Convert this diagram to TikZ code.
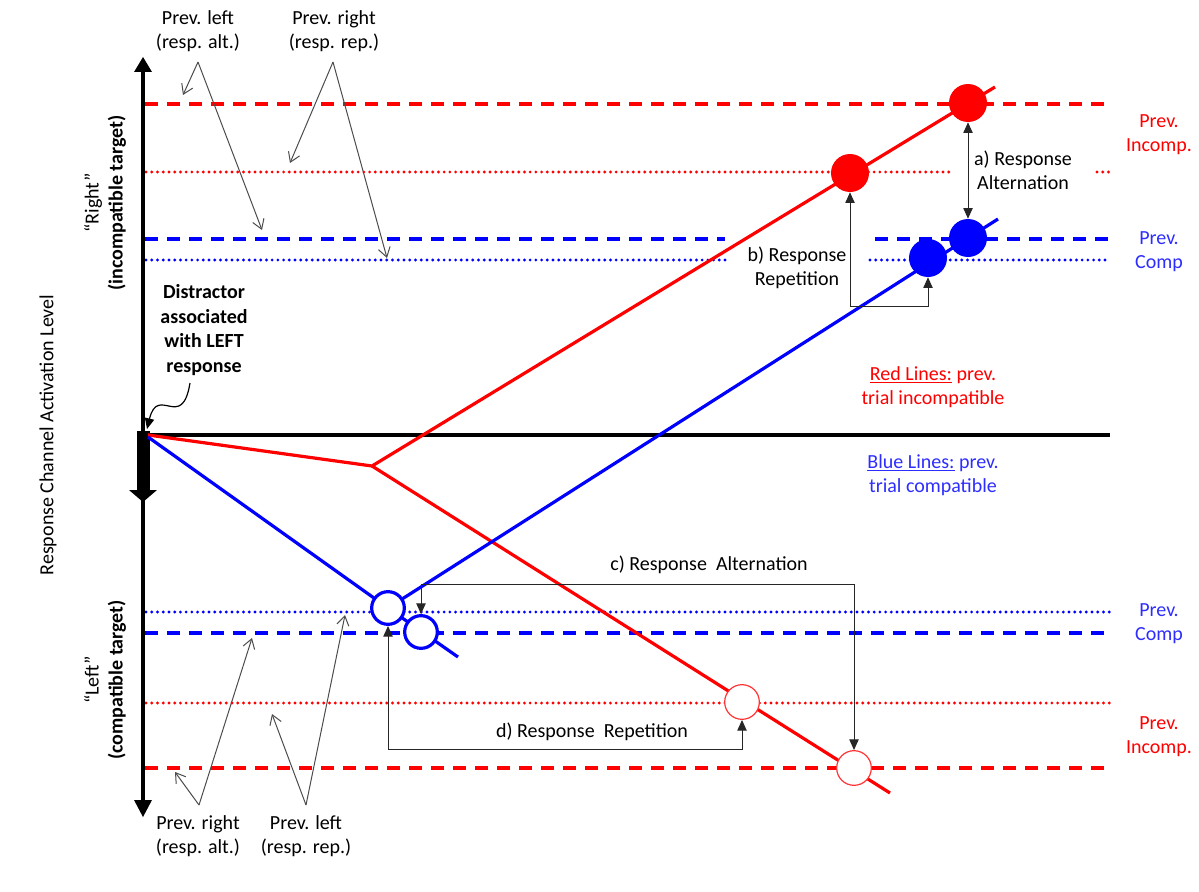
\documentclass[tikz,border=0pt]{standalone}
\usepackage{fontspec}
\setmainfont{Carlito}
\usetikzlibrary{arrows.meta}
\definecolor{rd}{RGB}{255,0,0}
\definecolor{bl}{RGB}{0,0,255}
\definecolor{lbl}{RGB}{45,45,255}
\begin{document}
\begin{tikzpicture}[x=0.75pt,y=-0.75pt,
  every node/.style={font=\fontsize{15}{18}\selectfont, inner sep=1pt},
  txt/.style={align=center},
  dashline/.style={line width=2.6pt, dash pattern=on 10pt off 6.5pt},
  dotline/.style={line width=2.4pt, line cap=round, dash pattern=on 0pt off 4.3pt},
  mainline/.style={line width=2.4pt},
  fdot/.style={circle, inner sep=0pt, minimum size=28.5pt},
  odot/.style={circle, inner sep=0pt, minimum size=24.5pt, fill=white},
  ann/.style={line width=0.75pt, black!70, -{Straight Barb[length=7pt,width=9pt]}},
  conn/.style={line width=0.75pt, black!85},
  tip/.style={-{Triangle[length=8pt,width=7pt]}},
  dtip/.style={{Triangle[length=8pt,width=7pt]}-{Triangle[length=8pt,width=7pt]}}
]
\useasboundingbox (0,0) rectangle (1199,892);

% horizontal reference lines
\draw[rd,dashline] (145,104) -- (1110,104);
\draw[rd,dotline] (146,172) -- (950,172);
\draw[rd,dotline] (1097,172) -- (1110,172);
\draw[bl,dashline] (145,239) -- (725,239);
\draw[bl,dashline] (875,239) -- (1110,239);
\draw[bl,dotline] (146,260) -- (730,260);
\draw[bl,dotline] (870,260) -- (1110,260);
\draw[bl,dotline] (146,612) -- (1110,612);
\draw[bl,dashline] (145,633) -- (1110,633);
\draw[rd,dotline] (146,703) -- (1110,703);
\draw[rd,dashline] (145,768) -- (1110,768);

% zero line
\draw[line width=2.3pt] (143,435) -- (1110,435);

% vertical axis
\draw[line width=3pt] (143,70) -- (143,802);
\fill (134,72) -- (152,72) -- (143,57) -- cycle;
\fill (134,800) -- (152,800) -- (143,817) -- cycle;
% thick distractor arrow
\fill (137,431) rectangle (150,490);
\fill (129,490) -- (157,490) -- (143,502) -- cycle;

% activation trajectories
\coordinate (O) at (148,435);
\coordinate (Ob) at (148,437);
\coordinate (K) at (372,466);
\coordinate (RE) at (995,87);
\coordinate (RD) at (890,793);
\coordinate (BE) at (998,219);
\coordinate (BD) at (458,657);
\draw[rd,mainline] (O) -- (K) -- (RE);
\draw[rd,mainline] (K) -- (RD);
\draw[bl,mainline] (Ob) -- (388,608) -- (BE);
\draw[bl,mainline] (388,608) -- (BD);

% circles
\node[fdot, fill=rd] (R1) at (968,103) {};
\node[fdot, fill=rd] (R2) at (850,173) {};
\node[fdot, fill=bl] (B1) at (968,238) {};
\node[fdot, fill=bl] (B2) at (928,258) {};
\node[odot, draw=bl, line width=2.4pt] (B3) at (388,608) {};
\node[odot, draw=bl, line width=2.4pt] (B4) at (421,632) {};
\node[odot, draw=rd!80, line width=0.9pt, minimum size=26pt] (R3) at (742,702) {};
\node[odot, draw=rd!80, line width=0.9pt, minimum size=26pt] (R4) at (854,768) {};

% comparison connectors
\draw[conn,dtip] (R1.south) -- (B1.north);
\node[txt] (la) at (1023,170) {a) Response\\Alternation};
\coordinate (bc) at (850,306);
\draw[conn,tip] (bc) -- (R2.south);
\draw[conn,tip] (bc) -| (B2.south);
\node[txt] (lb) at (797,268) {b) Response\\Repetition};
\draw[conn,dtip] (B4.north) -- ++(0,-30) -| (R4.north);
\node[txt] (lc) at (709,565) {c) Response~ Alternation};
\draw[conn,dtip] (B3.south) -- ++(0,124) -| (R3.south);
\node[txt] (ld) at (592,732) {d) Response~ Repetition};

% annotation labels (top)
\node[txt] (tl) at (198,31) {Prev. left\\(resp. alt.)};
\node[txt] (tr) at (334,31) {Prev. right\\(resp. rep.)};
\coordinate (tla) at (198,62);
\coordinate (tra) at (333,62);
\draw[ann] (tla) -- (183,95);
\draw[ann] (tla) -- (262,230);
\draw[ann] (tra) -- (290,163);
\draw[ann] (tra) -- (387,258);

% annotation labels (bottom)
\node[txt] (bl) at (198,836) {Prev. right\\(resp. alt.)};
\node[txt] (br) at (306,836) {Prev. left\\(resp. rep.)};
\coordinate (bla) at (199,805);
\coordinate (bra) at (306,805);
\draw[ann] (bla) -- (175,772);
\draw[ann] (bla) -- (252,638);
\draw[ann] (bra) -- (272,714);
\draw[ann] (bra) -- (345,615);

% distractor label
\node[txt, font=\fontsize{15}{18.5}\selectfont\bfseries] (dist) at (204,330) {Distractor\\associated\\with LEFT\\response};
\coordinate (dtipc) at (147,429);
\draw[line width=0.9pt, -{Triangle[length=8pt,width=7pt]}] (190,383) .. controls (182,432) and (158,384) .. (dtipc);

% axis labels
\node[rotate=90] (yl) at (48,435) {Response Channel Activation Level};
\node[rotate=90, txt] (yr) at (105,203) {“Right”\\\textbf{(incompatible target)}};
\node[rotate=90, txt] (ylf) at (105,680) {“Left”\\\textbf{(compatible target)}};

% legend
\node[txt, text=rd] (legr) at (933,387) {\underline{Red Lines:} prev.\\trial incompatible};
\node[txt, text=lbl] (legb) at (933,475) {\underline{Blue Lines:} prev.\\trial compatible};

% right labels
\node[txt, text=rd] (r1) at (1159,135) {Prev.\\Incomp.};
\node[txt, text=lbl] (r2) at (1159,252) {Prev.\\Comp};
\node[txt, text=lbl] (r3) at (1159,624) {Prev.\\Comp};
\node[txt, text=rd] (r4) at (1159,737) {Prev.\\Incomp.};
\end{tikzpicture}
\end{document}
